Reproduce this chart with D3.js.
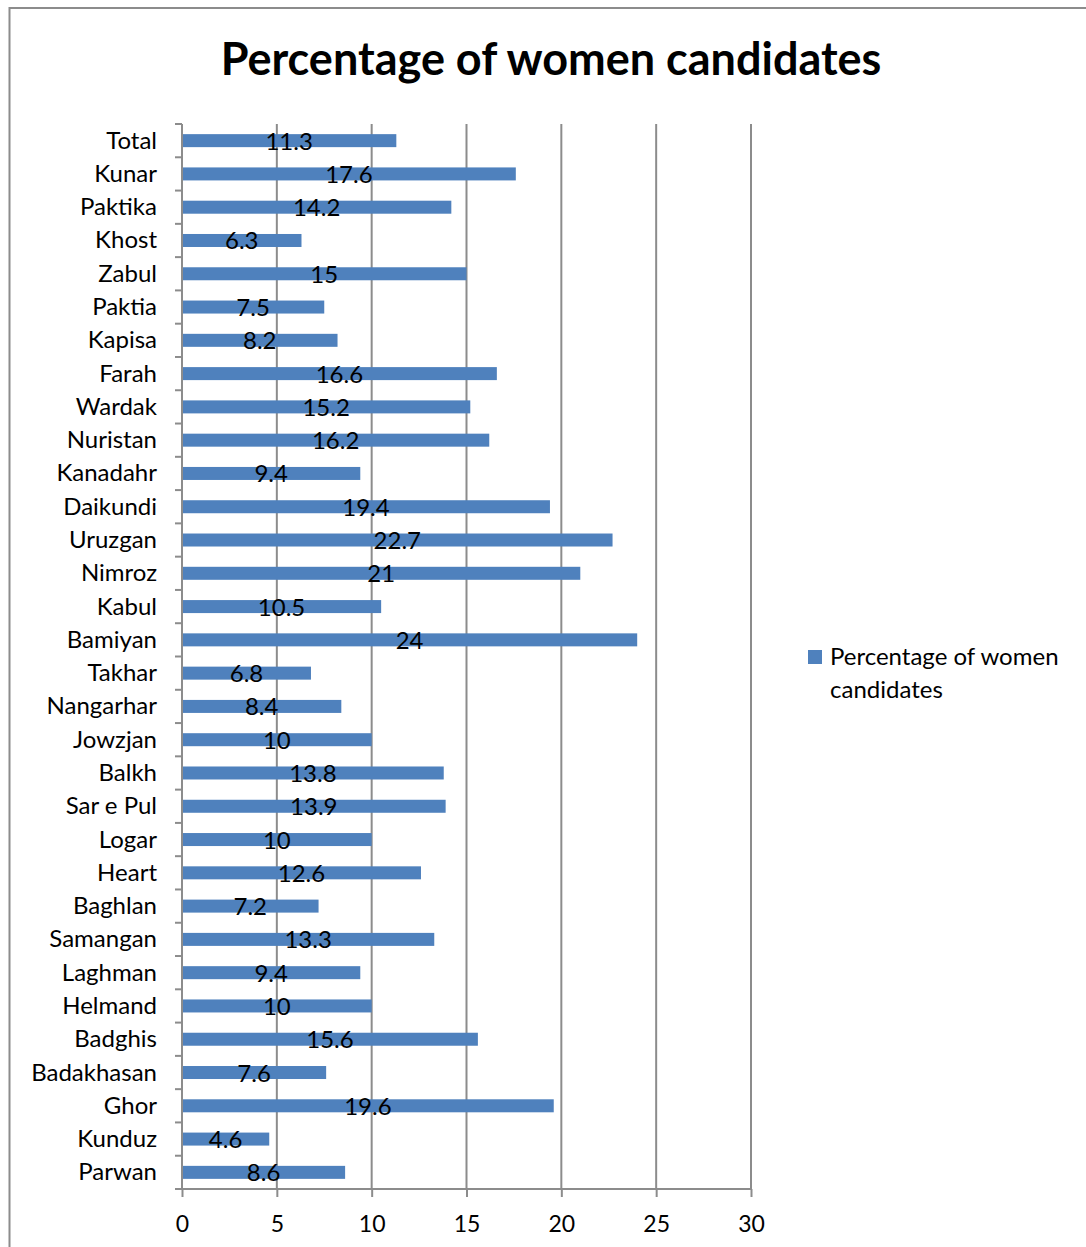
<!DOCTYPE html>
<html>
<head>
<meta charset="utf-8">
<script src="https://cdn.jsdelivr.net/npm/d3@7"></script>
<style>
  html, body { margin: 0; padding: 0; background: #fff; }
  svg { display: block; font-family: Lato, "Open Sans", sans-serif; }
</style>
</head>
<body>
<svg id="chart" width="1086" height="1247"></svg>
<script>
// Share of women among candidates, by province (top row is the national total)
const provinces = [
  "Total", "Kunar", "Paktika", "Khost", "Zabul", "Paktia", "Kapisa", "Farah",
  "Wardak", "Nuristan", "Kanadahr", "Daikundi", "Uruzgan", "Nimroz", "Kabul",
  "Bamiyan", "Takhar", "Nangarhar", "Jowzjan", "Balkh", "Sar e Pul", "Logar",
  "Heart", "Baghlan", "Samangan", "Laghman", "Helmand", "Badghis",
  "Badakhasan", "Ghor", "Kunduz", "Parwan"
];
const womenPct = [
  11.3, 17.6, 14.2, 6.3, 15, 7.5, 8.2, 16.6,
  15.2, 16.2, 9.4, 19.4, 22.7, 21, 10.5,
  24, 6.8, 8.4, 10, 13.8, 13.9, 10,
  12.6, 7.2, 13.3, 9.4, 10, 15.6,
  7.6, 19.6, 4.6, 8.6
];
const xTicks = [0, 5, 10, 15, 20, 25, 30];
const seriesName = "Percentage of women candidates";
const chartTitle = "Percentage of women candidates";

const svg = d3.select("#chart");
const barColor = "#4f81bd";
const gridColor = "#8c8c8c";

const plot = { left: 182, right: 751, top: 124, bottom: 1189 };

const x = d3.scaleLinear().domain([0, 30]).range([plot.left, plot.right]);
const y = d3.scaleBand().domain(provinces).range([plot.top, plot.bottom]).padding(0);
const barH = 13;

// outer chart frame
svg.append("rect")
  .attr("x", 9.5).attr("y", 8)
  .attr("width", 1090).attr("height", 1260)
  .attr("fill", "none").attr("stroke", gridColor).attr("stroke-width", 2);

// title
svg.append("text")
  .attr("x", 551).attr("y", 75)
  .attr("text-anchor", "middle")
  .attr("font-weight", 700).attr("font-size", 45)
  .attr("fill", "#000")
  .text(chartTitle);

// vertical gridlines
svg.append("g")
  .selectAll("line")
  .data(xTicks.slice(1))
  .join("line")
  .attr("x1", d => x(d)).attr("x2", d => x(d))
  .attr("y1", plot.top).attr("y2", plot.bottom)
  .attr("stroke", gridColor).attr("stroke-width", 2);

// bars
svg.append("g")
  .selectAll("rect")
  .data(provinces)
  .join("rect")
  .attr("x", x(0))
  .attr("y", d => y(d) + (y.bandwidth() - barH) / 2)
  .attr("width", (d, i) => x(womenPct[i]) - x(0))
  .attr("height", barH)
  .attr("fill", barColor);

// value labels centred on each bar
svg.append("g")
  .selectAll("text")
  .data(provinces)
  .join("text")
  .attr("x", (d, i) => (x(0) + x(womenPct[i])) / 2)
  .attr("y", d => y(d) + y.bandwidth() / 2 + 9)
  .attr("text-anchor", "middle")
  .attr("font-size", 24)
  .attr("fill", "#000")
  .text((d, i) => womenPct[i]);

// category axis with ticks between the bands
const yAxisG = svg.append("g").attr("transform", `translate(${plot.left},0)`);
yAxisG.append("line")
  .attr("x1", 0).attr("x2", 0)
  .attr("y1", plot.top).attr("y2", plot.bottom)
  .attr("stroke", gridColor).attr("stroke-width", 2);
const bounds = provinces.map(p => y(p)).concat([plot.bottom]);
yAxisG.selectAll("line.tick")
  .data(bounds)
  .join("line")
  .attr("class", "tick")
  .attr("x1", -7).attr("x2", 0)
  .attr("y1", d => d).attr("y2", d => d)
  .attr("stroke", gridColor).attr("stroke-width", 2);
yAxisG.selectAll("text")
  .data(provinces)
  .join("text")
  .attr("x", -25)
  .attr("y", d => y(d) + y.bandwidth() / 2 + 8)
  .attr("text-anchor", "end")
  .attr("font-size", 24)
  .attr("fill", "#000")
  .text(d => d);

// value axis
const xAxis = d3.axisBottom(x).tickValues(xTicks).tickSize(8).tickPadding(19);
const xAxisG = svg.append("g")
  .attr("transform", `translate(0,${plot.bottom})`)
  .call(xAxis);
xAxisG.select(".domain").remove();
xAxisG.append("line")
  .attr("x1", plot.left - 7).attr("x2", plot.right)
  .attr("y1", 0).attr("y2", 0)
  .attr("stroke", gridColor).attr("stroke-width", 2);
xAxisG.selectAll(".tick line").attr("stroke", gridColor).attr("stroke-width", 2);
xAxisG.selectAll(".tick text")
  .attr("font-family", "Lato, sans-serif")
  .attr("font-size", 23)
  .attr("fill", "#000");

// legend
const legend = svg.append("g").attr("transform", "translate(808,650)");
legend.append("rect")
  .attr("width", 14).attr("height", 14)
  .attr("fill", barColor);
const words = seriesName.split(" ");
legend.append("text")
  .attr("x", 22).attr("y", 15)
  .attr("font-size", 24).attr("fill", "#000")
  .text(words.slice(0, 3).join(" "));
legend.append("text")
  .attr("x", 22).attr("y", 48)
  .attr("font-size", 24).attr("fill", "#000")
  .text(words.slice(3).join(" "));
</script>
</body>
</html>
